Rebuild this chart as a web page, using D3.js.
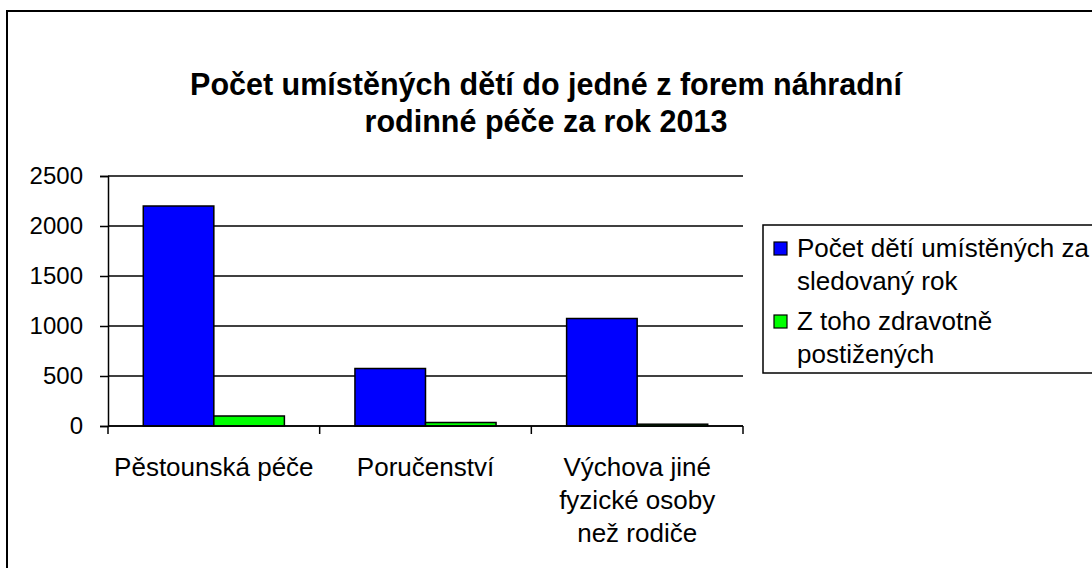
<!DOCTYPE html>
<html>
<head>
<meta charset="utf-8">
<script src="https://cdn.jsdelivr.net/npm/d3@7"></script>
<style>
  body { margin: 0; background: #fff; }
  svg { display: block; font-family: "Liberation Sans", Arial, sans-serif; }
</style>
</head>
<body>
<div id="chart"></div>
<script>
// data
const categories = ["Pěstounská péče", "Poručenství", "Výchova jiné fyzické osoby než rodiče"];
const categoryLines = [["Pěstounská péče"], ["Poručenství"], ["Výchova jiné", "fyzické osoby", "než rodiče"]];
const seriesNames = ["Počet dětí umístěných za sledovaný rok", "Z toho zdravotně postižených"];
const legendLines = [["Počet dětí umístěných za", "sledovaný rok"], ["Z toho zdravotně", "postižených"]];
const placedTotal = [2200, 575, 1075];
const placedDisabled = [100, 35, 18];
const yTicks = [0, 500, 1000, 1500, 2000, 2500];
const titleLines = ["Počet umístěných dětí do jedné z forem náhradní", "rodinné péče za rok 2013"];

const width = 1092, height = 568;
const colors = ["#0000FF", "#00FF00"];

const svg = d3.select("#chart").append("svg")
    .attr("width", width)
    .attr("height", height);

// outer chart frame (right/bottom edges run off the picture)
svg.append("rect")
    .attr("x", 7).attr("y", 11)
    .attr("width", 1200).attr("height", 700)
    .attr("fill", "#fff")
    .attr("stroke", "#000")
    .attr("stroke-width", 2);

svg.append("text")
    .attr("x", 546).attr("y", 95)
    .attr("text-anchor", "middle")
    .attr("font-size", 30.5)
    .attr("font-weight", "bold")
    .selectAll("tspan")
    .data(titleLines)
    .join("tspan")
    .attr("x", 546)
    .attr("dy", (d, i) => i === 0 ? 0 : 37)
    .text(d => d);

const plot = { left: 108, right: 743, top: 176, bottom: 426 };

const x = d3.scaleBand()
    .domain(categories)
    .range([plot.left, plot.right]);

const xSub = d3.scaleBand()
    .domain(seriesNames)
    .range([0, x.bandwidth()])
    .paddingOuter(0.5);

const y = d3.scaleLinear()
    .domain([0, 2500])
    .range([plot.bottom, plot.top]);

// gridlines
svg.append("g")
    .selectAll("line")
    .data(yTicks)
    .join("line")
    .attr("x1", plot.left).attr("x2", plot.right)
    .attr("y1", d => y(d)).attr("y2", d => y(d))
    .attr("stroke", "#000")
    .attr("stroke-width", 1.5);

// y axis
const yAxis = svg.append("g")
    .attr("transform", `translate(${plot.left},0)`)
    .call(d3.axisLeft(y).tickValues(yTicks).tickSize(8).tickPadding(17).tickFormat(d3.format("d")));
yAxis.select(".domain").attr("stroke-width", 1.5);
yAxis.selectAll(".tick line").attr("stroke-width", 1.5);
yAxis.selectAll("text")
    .attr("font-size", 24)
    .attr("font-family", "Liberation Sans, Arial, sans-serif")
    .attr("fill", "#000");

// bars
const series = [placedTotal, placedDisabled];
svg.append("g")
    .selectAll("g")
    .data(series)
    .join("g")
    .attr("fill", (d, i) => colors[i])
    .selectAll("rect")
    .data((vals, si) => vals.map((v, ci) => ({ v, ci, si })))
    .join("rect")
    .attr("x", d => x(categories[d.ci]) + xSub(seriesNames[d.si]))
    .attr("y", d => y(d.v))
    .attr("width", xSub.bandwidth())
    .attr("height", d => y(0) - y(d.v))
    .attr("stroke", "#000")
    .attr("stroke-width", 1.5);

// x axis line and boundary ticks
svg.append("line")
    .attr("x1", plot.left).attr("x2", plot.right)
    .attr("y1", y(0)).attr("y2", y(0))
    .attr("stroke", "#000").attr("stroke-width", 1.5);

const bounds = categories.map(c => x(c)).concat([plot.right]);
svg.append("g")
    .selectAll("line")
    .data(bounds)
    .join("line")
    .attr("x1", d => d).attr("x2", d => d)
    .attr("y1", y(0)).attr("y2", y(0) + 8)
    .attr("stroke", "#000").attr("stroke-width", 1.5);

svg.append("g")
    .selectAll("text")
    .data(categories)
    .join("text")
    .attr("text-anchor", "middle")
    .attr("font-size", 26)
    .attr("y", 476)
    .each(function (c, i) {
        const cx = x(c) + x.bandwidth() / 2;
        d3.select(this).selectAll("tspan")
            .data(categoryLines[i])
            .join("tspan")
            .attr("x", cx)
            .attr("dy", (d, j) => j === 0 ? 0 : 33)
            .text(d => d);
    });

// legend
const legend = svg.append("g");
legend.append("rect")
    .attr("x", 763).attr("y", 225)
    .attr("width", 400).attr("height", 148)
    .attr("fill", "#fff")
    .attr("stroke", "#000")
    .attr("stroke-width", 1.5);

const itemY = [257, 330];
const items = legend.selectAll("g.item")
    .data(seriesNames)
    .join("g")
    .attr("class", "item");

items.append("rect")
    .attr("x", 774)
    .attr("y", (d, i) => itemY[i] - 15)
    .attr("width", 13).attr("height", 13)
    .attr("fill", (d, i) => colors[i])
    .attr("stroke", "#000")
    .attr("stroke-width", 1.2);

items.append("text")
    .attr("font-size", 26)
    .attr("y", (d, i) => itemY[i])
    .selectAll("tspan")
    .data((d, i) => legendLines[i])
    .join("tspan")
    .attr("x", 797)
    .attr("dy", (d, j) => j === 0 ? 0 : 33)
    .text(d => d);
</script>
</body>
</html>
